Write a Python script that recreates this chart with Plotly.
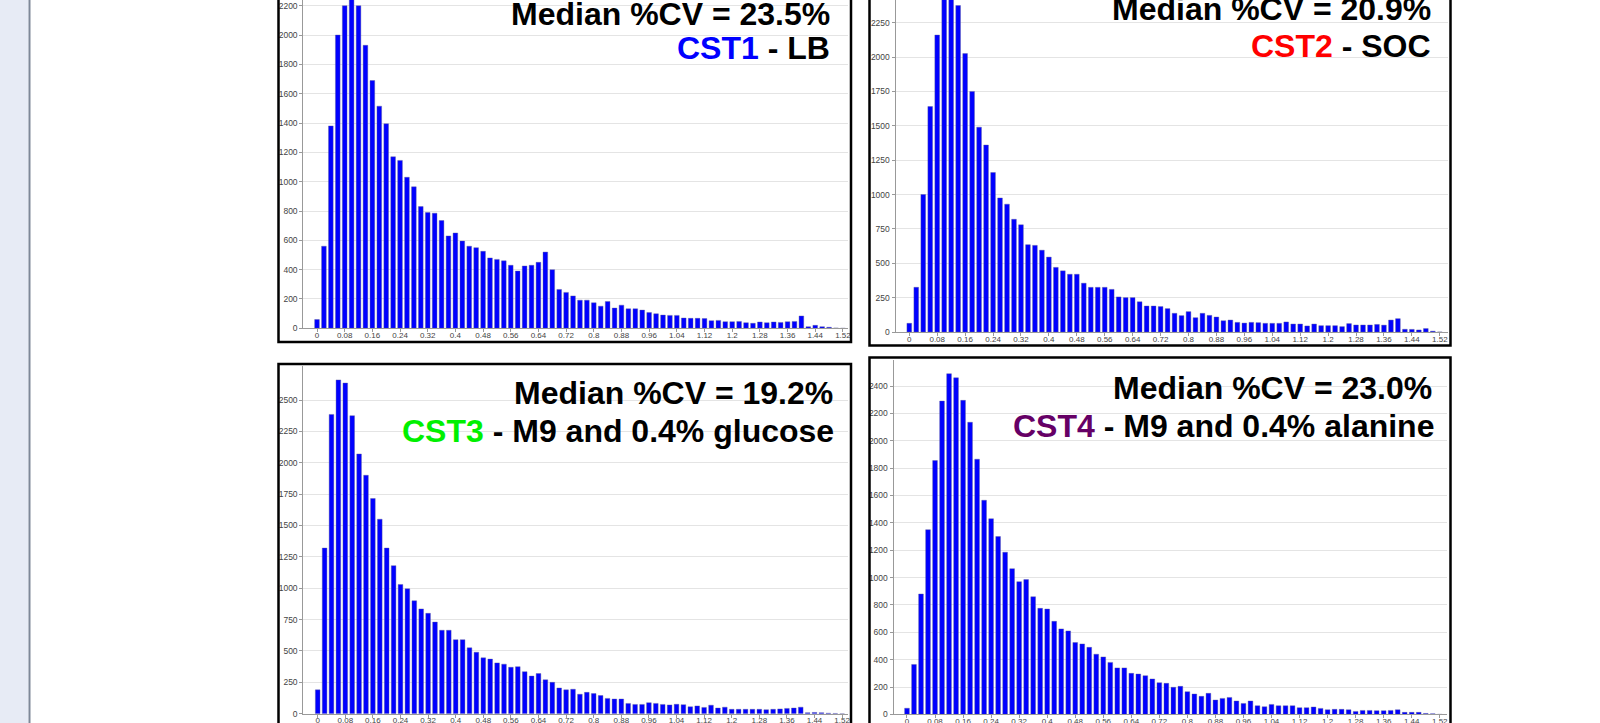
import plotly.graph_objects as go

# ---- data: histogram counts of per-gene %CV, bins of width 0.02 ----
bin_centers = [round(0.02 * i, 2) for i in range(77)]

cst1_lb = [60, 560, 1380, 2000, 2200, 2280, 2200, 1930, 1690, 1515,
           1395, 1170, 1145, 1030, 965, 830, 790, 785, 735, 630,
           650, 595, 560, 550, 525, 480, 470, 460, 430, 390,
           425, 430, 450, 520, 400, 265, 245, 221, 192, 192,
           174, 151, 183, 138, 158, 133, 133, 124, 108, 99,
           90, 88, 88, 70, 68, 68, 66, 52, 54, 45,
           45, 47, 38, 34, 43, 38, 43, 40, 45, 47,
           84, 11, 20, 11, 7, 2, 0]

cst2_soc = [63, 325, 1000, 1640, 2160, 2500, 2470, 2375, 2025, 1750,
            1490, 1360, 1160, 975, 930, 820, 780, 635, 630, 595,
            545, 470, 445, 420, 420, 355, 325, 325, 325, 310,
            255, 250, 250, 220, 189, 189, 185, 170, 136, 119,
            148, 104, 136, 121, 109, 82, 87, 70, 65, 70,
            68, 63, 63, 63, 73, 58, 58, 44, 58, 46,
            46, 46, 39, 61, 51, 51, 51, 55, 50, 87,
            97, 20, 19, 15, 25, 6, 0]

cst3_glucose = [190, 1320, 2385, 2660, 2635, 2375, 2070, 1900, 1715, 1550,
                1320, 1180, 1030, 995, 900, 835, 800, 730, 665, 665,
                590, 590, 525, 490, 445, 435, 405, 395, 370, 375,
                335, 300, 320, 270, 250, 205, 190, 195, 155, 170,
                160, 145, 122, 117, 117, 82, 74, 74, 88, 82,
                74, 70, 75, 72, 55, 62, 50, 68, 45, 52,
                35, 35, 35, 35, 35, 32, 35, 38, 42, 45,
                52, 8, 10, 8, 4, 2, 0]

cst4_alanine = [45, 365, 880, 1350, 1855, 2290, 2490, 2460, 2295, 2135,
                1865, 1565, 1430, 1300, 1185, 1065, 970, 985, 860, 775,
                770, 680, 625, 610, 525, 515, 490, 440, 420, 380,
                340, 340, 300, 295, 283, 259, 232, 227, 198, 205,
                166, 149, 132, 154, 105, 117, 124, 98, 80, 98,
                63, 56, 73, 63, 63, 63, 49, 49, 54, 44,
                34, 37, 37, 34, 22, 29, 29, 27, 27, 29,
                34, 15, 15, 15, 7, 5, 0]

x_tick_vals = [0, 0.08, 0.16, 0.24, 0.32, 0.4, 0.48, 0.56, 0.64, 0.72,
               0.8, 0.88, 0.96, 1.04, 1.12, 1.2, 1.28, 1.36, 1.44, 1.52]
x_tick_text = ["0", "0.08", "0.16", "0.24", "0.32", "0.4", "0.48", "0.56",
               "0.64", "0.72", "0.8", "0.88", "0.96", "1.04", "1.12", "1.2",
               "1.28", "1.36", "1.44", "1.52"]

y_ticks_200 = [0, 200, 400, 600, 800, 1000, 1200, 1400, 1600, 1800, 2000, 2200, 2400]
y_ticks_250 = [0, 250, 500, 750, 1000, 1250, 1500, 1750, 2000, 2250, 2500]

medians = ["23.5%", "20.9%", "19.2%", "23.0%"]
strains = ["CST1", "CST2", "CST3", "CST4"]
strain_colors = ["#0000FF", "#FF0000", "#00F000", "#660066"]
media = ["LB", "SOC", "M9 and 0.4% glucose", "M9 and 0.4% alanine"]

# ---- page geometry (pixels) ----
W, H = 1600, 723


def px(x):
    return x / W


def py(y):
    return 1 - y / H


FONT = "Liberation Sans, Arial, sans-serif"
TITLE_SIZE = 32

# per panel: series, plot box (left, right, top, bottom px), x range, y max, y ticks,
# frame box, title right edges + line centres
panels = [
    dict(y=cst1_lb, box=(303.3, 848, 0, 328.3), xr=(-0.0396, 1.5347), ymax=2239,
         yt=y_ticks_200, frame=(278.5, 851, -10, 342), tx=(832.5, 832), ty=(13.5, 48)),
    dict(y=cst2_soc, box=(895.5, 1448, 0, 332.0), xr=(-0.0395, 1.5435), ymax=2415,
         yt=y_ticks_250, frame=(869.5, 1450.5, -10, 345.5), tx=(1432.5, 1432.5), ty=(9.5, 46.5)),
    dict(y=cst3_glucose, box=(303.3, 848, 366, 713.7), xr=(-0.0417, 1.537), ymax=2771,
         yt=y_ticks_250, frame=(278.5, 851, 364, 740), tx=(834.5, 836), ty=(393.5, 430.5)),
    dict(y=cst4_alanine, box=(893.5, 1447, 360, 714.4), xr=(-0.0385, 1.5407), ymax=2590,
         yt=y_ticks_200, frame=(869.5, 1450.5, 357.5, 740), tx=(1434, 1435.5), ty=(388.3, 425.8)),
]

fig = go.Figure()
layout = dict(
    width=W, height=H,
    margin=dict(l=0, r=0, t=0, b=0, autoexpand=False),
    paper_bgcolor="white", plot_bgcolor="white",
    showlegend=False,
    shapes=[], annotations=[],
)

# slide side strip
layout["shapes"].append(dict(type="rect", xref="paper", yref="paper",
                             x0=0, x1=px(28.5), y0=0, y1=1,
                             fillcolor="#E7EBF5", line=dict(width=0), layer="below"))
layout["shapes"].append(dict(type="line", xref="paper", yref="paper",
                             x0=px(29.5), x1=px(29.5), y0=0, y1=1,
                             line=dict(color="#7E8898", width=2)))

for i, p in enumerate(panels):
    n = "" if i == 0 else str(i + 1)
    xa, ya = "x" + n, "y" + n
    l, r, t, b = p["box"]
    fig.add_trace(go.Bar(
        x=bin_centers, y=p["y"], xaxis=xa, yaxis=ya,
        width=0.0135, marker=dict(color="#0000FF", line=dict(width=0.4, color="#5a5a9a")),
        hoverinfo="x+y",
    ))
    layout["xaxis" + n] = dict(
        domain=[px(l), px(r)], anchor=ya, range=list(p["xr"]),
        tickmode="array", tickvals=x_tick_vals, ticktext=x_tick_text,
        tickfont=dict(family=FONT, size=8, color="#444"),
        ticks="outside", ticklen=3, tickcolor="#999", ticklabelstandoff=-4,
        showline=True, linecolor="#999", linewidth=1,
        showgrid=False, zeroline=False, fixedrange=True, automargin=False,
    )
    layout["yaxis" + n] = dict(
        domain=[py(b), py(t)], anchor=xa, range=[0, p["ymax"]],
        tickmode="array", tickvals=[v for v in p["yt"] if v < p["ymax"] - 30],
        tickfont=dict(family=FONT, size=8.5, color="#444"),
        ticks="outside", ticklen=3, tickcolor="#999", ticklabeloverflow="allow",
        showline=True, linecolor="#999", linewidth=1,
        showgrid=True, gridcolor="#E4E4E4", gridwidth=1,
        zeroline=False, fixedrange=True, automargin=False,
    )
    fl, fr, ft, fb = p["frame"]
    layout["shapes"].append(dict(type="rect", xref="paper", yref="paper",
                                 x0=px(fl), x1=px(fr), y0=py(fb), y1=py(ft),
                                 line=dict(color="black", width=2.5),
                                 fillcolor="rgba(0,0,0,0)", layer="above"))
    layout["annotations"].append(dict(
        xref="paper", yref="paper", x=px(p["tx"][0]), y=py(p["ty"][0]),
        xanchor="right", yanchor="middle", showarrow=False,
        text="<b>Median %CV = " + medians[i] + "</b>",
        font=dict(family=FONT, size=TITLE_SIZE, color="black"),
    ))
    layout["annotations"].append(dict(
        xref="paper", yref="paper", x=px(p["tx"][1]), y=py(p["ty"][1]),
        xanchor="right", yanchor="middle", showarrow=False,
        text="<b><span style='color:" + strain_colors[i] + "'>" + strains[i]
             + "</span> - " + media[i] + "</b>",
        font=dict(family=FONT, size=TITLE_SIZE, color="black"),
    ))

fig.update_layout(**layout)
fig.write_html("out.html", post_script="document.body.style.margin='0';")
